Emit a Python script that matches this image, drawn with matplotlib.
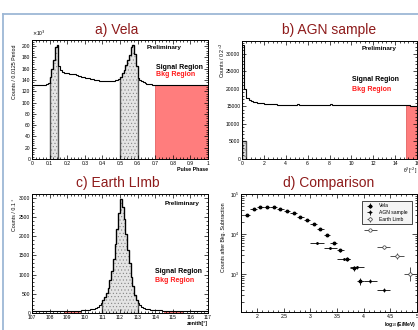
import numpy as np
import matplotlib
matplotlib.use("Agg")
import matplotlib.pyplot as plt
from matplotlib.lines import Line2D
from matplotlib.ticker import MultipleLocator, FormatStrFormatter

plt.rcParams["font.family"] = ["Liberation Sans", "DejaVu Sans"]
plt.rcParams["hatch.linewidth"] = 0.35
plt.rcParams["hatch.color"] = "#7a7a7a"

W, H = 418, 330
TITLE = "#8e1b1b"; SIG_FILL = "#e4e4e4"; SIG_EDGE = "#555555"; BKG = "#ff7d7d"; FRAME = "#9db7d5"

# ---- a) Vela pulse phase, 100 bins over [0, 1], counts x1e3 ----
vela_phase_lo, vela_phase_hi = 0.0, 1.0
vela_counts = [131, 131, 131, 131, 131, 131.5, 132, 132, 133, 135,
               145, 160, 175, 198, 202, 165, 158, 153.5, 153, 152.5,
               152, 151.5, 151, 150.5, 150, 149, 148, 147, 146, 145,
               144.5, 144, 143, 142, 141, 140.5, 140, 139.5, 139, 138.5,
               138.5, 138.5, 138.5, 138.5, 138.5, 139, 139, 139.5, 140, 142,
               146, 152, 158, 166, 175, 185, 199, 202, 186, 165,
               144, 140, 138, 136, 134.5, 133.5, 133, 132.5, 132, 132,
               131.5, 131.5, 131, 131, 131, 131, 131, 131, 131, 131,
               131, 131, 131, 131, 131, 131, 131, 131, 131, 131,
               131, 131, 131, 131, 131, 131, 131, 131, 131, 131]
vela_signal_bins = [(10, 15), (50, 60)]
vela_bkg_bins = (70, 100)

# ---- b) AGN sample theta^2, 80 bins over [0, 16] ----
agn_lo, agn_hi = 0.0, 16.0
agn_counts = [32500, 20000, 17500, 16800, 16500, 16300, 16100, 16000, 16000, 15900,
              15800, 15800, 15700, 15700, 15600, 15600, 15500, 15500, 15400, 15500,
              15400, 15350, 15450, 15400, 15350, 15750, 15400, 15350, 15300, 15400,
              15450, 15350, 15300, 15400, 15350, 15450, 15400, 15300, 15350, 15450,
              15700, 15400, 15300, 15350, 15450, 15400, 15300, 15350, 15400, 15450,
              15350, 15300, 15400, 15500, 15350, 15300, 15400, 15350, 15450, 15400,
              15300, 15350, 15400, 15450, 15350, 15400, 15300, 15350, 15450, 15400,
              15300, 15350, 15400, 15300, 15350, 15400, 15300, 15200, 15150, 15100]
agn_signal_counts = [5200, 5200]
agn_signal_bins = (0, 2)
agn_bkg_bins = (75, 80)

# ---- c) Earth limb zenith, 100 bins over [107, 117] ----
limb_lo, limb_hi = 107.0, 117.0
limb_counts = [45, 48, 46, 50, 47, 49, 52, 48, 50, 51,
               50, 49, 52, 51, 50, 53, 51, 52, 54, 52,
               55, 53, 56, 58, 57, 60, 62, 63, 66, 70,
               75, 80, 85, 92, 100, 110, 130, 160, 200, 270,
               350, 420, 520, 650, 850, 1100, 1400, 1800, 2200, 2600,
               2980, 2750, 2450, 2050, 1650, 1300, 950, 700, 480, 330,
               250, 200, 160, 135, 115, 100, 92, 86, 80, 76,
               73, 70, 68, 66, 63, 62, 60, 58, 57, 56,
               55, 54, 53, 52, 51, 50, 50, 49, 48, 48,
               47, 47, 46, 46, 45, 45, 44, 44, 43, 43]
limb_signal_bins = (40, 60)
limb_bkg_bins = [(18, 27), (75, 85)]

# ---- d) comparison after background subtraction ----
vela_logE = [1.8125, 1.9375, 2.0625, 2.1875, 2.3125, 2.4375, 2.5625, 2.6875, 2.8125,
             2.9375, 3.0625, 3.1875, 3.3125, 3.4375, 3.5625, 3.6875, 3.8125, 3.9375]
vela_sub = [30000, 41000, 48000, 48000, 48000, 42000, 38000, 33500, 27000,
            22600, 17300, 13400, 9400, 6000, 3900, 2350, 1390, 650]
vela_err = [900, 1000, 1100, 1100, 1100, 1000, 950, 900, 800,
            750, 650, 600, 500, 400, 320, 250, 190, 130]
vela_halfbin = 0.0625
agn_logE = [3.125, 3.375, 3.625, 3.875, 4.125, 4.375]
agn_sub = [5900, 4400, 2400, 1440, 650, 390]
agn_err = [250, 200, 150, 110, 70, 50]
agn_halfbin = 0.125
limb_logE = [4.125, 4.375, 4.625, 4.875]
limb_sub = [12600, 4600, 2750, 1000]
limb_err_lo = [600, 350, 450, 330]
limb_err_hi = [650, 380, 500, 480]
limb_halfbin = 0.125


def px_axes(fig, x0, y0, x1, y1):
    return fig.add_axes([x0 / W, 1 - y1 / H, (x1 - x0) / W, (y1 - y0) / H])


def root_style(ax, xmaj, xmin, ymaj=None, ymin=None, xfmt="%g", yfmt="%g"):
    ax.xaxis.set_major_locator(MultipleLocator(xmaj))
    ax.xaxis.set_minor_locator(MultipleLocator(xmin))
    ax.xaxis.set_major_formatter(FormatStrFormatter(xfmt))
    if ymaj is not None:
        ax.yaxis.set_major_locator(MultipleLocator(ymaj))
        ax.yaxis.set_minor_locator(MultipleLocator(ymin))
        ax.yaxis.set_major_formatter(FormatStrFormatter(yfmt))
    ax.tick_params(which="both", direction="in", top=True, right=True, width=0.5,
                   labelsize=3.6, pad=1.2)
    ax.tick_params(which="major", length=2.6)
    ax.tick_params(which="minor", length=1.3)
    for s in ax.spines.values():
        s.set_linewidth(0.7)


def region_labels(ax, xs, yp, ys, yb):
    ax.text(xs[0], yp, "Preliminary", transform=ax.transAxes, fontsize=4.6,
            fontweight="bold", va="center")
    ax.text(xs[1], ys, "Signal Region", transform=ax.transAxes, fontsize=5,
            fontweight="bold", va="center")
    ax.text(xs[1], yb, "Bkg Region", transform=ax.transAxes, fontsize=5,
            fontweight="bold", color="#ff1a1a", va="center")


def signal_fill(ax, vals, edges):
    ax.stairs(vals, edges, fill=True, facecolor=SIG_FILL, edgecolor="#7a7a7a",
              hatch=".....", linewidth=0)
    ax.stairs(vals, edges, color=SIG_EDGE, linewidth=1.0)


def bkg_fill(ax, vals, edges):
    ax.stairs(vals, edges, fill=True, facecolor=BKG, edgecolor="#e05050", linewidth=0.5)


fig = plt.figure(figsize=(W / 100, H / 100), dpi=100)

# ---------------- a) Vela ----------------
ax = px_axes(fig, 32, 40, 208, 159)
vc = np.array(vela_counts)
edges = np.linspace(vela_phase_lo, vela_phase_hi, len(vc) + 1)
for a, b in vela_signal_bins:
    signal_fill(ax, vc[a:b], edges[a:b + 1])
bkg_fill(ax, vc[vela_bkg_bins[0]:vela_bkg_bins[1]], edges[vela_bkg_bins[0]:vela_bkg_bins[1] + 1])
ax.stairs(vc, edges, color="black", linewidth=0.8)
ax.set_xlim(0, 1); ax.set_ylim(0, 211)
root_style(ax, 0.1, 0.02, 20, 4)
ax.text(0.0, 1.02, r"$\times$10$^{3}$", transform=ax.transAxes, fontsize=3.6, va="bottom")
ax.text(-0.097, 0.96, "Counts / 0.0125 Period", transform=ax.transAxes, rotation=90,
        fontsize=3.8, ha="center", va="top")
ax.text(1.0, -0.09, "Pulse Phase", transform=ax.transAxes, fontsize=3.8,
        fontweight="bold", ha="right", va="center")
region_labels(ax, (0.653, 0.705), 0.941, 0.773, 0.706)
fig.text(117 / W, 1 - 30 / H, "a) Vela", color=TITLE, fontsize=10, ha="center", va="center")

# ---------------- b) AGN sample ----------------
ax = px_axes(fig, 242, 41, 417, 159)
ac = np.array(agn_counts)
edges = np.linspace(agn_lo, agn_hi, len(ac) + 1)
sa, sb = agn_signal_bins
signal_fill(ax, np.array(agn_signal_counts), edges[sa:sb + 1])
bkg_fill(ax, ac[agn_bkg_bins[0]:agn_bkg_bins[1]], edges[agn_bkg_bins[0]:agn_bkg_bins[1] + 1])
ax.stairs(ac, edges, color="black", linewidth=0.8)
ax.set_xlim(0, 16); ax.set_ylim(0, 33600)
root_style(ax, 2, 0.4, 5000, 1000)
ax.text(-0.11, 0.99, "Counts / 0.2 \u00b0$^{2}$", transform=ax.transAxes, rotation=90,
        fontsize=3.8, ha="center", va="top")
ax.text(0.998, -0.1, "\u03b8$^{2}$[\u00b0$^{2}$]", transform=ax.transAxes, fontsize=3.6,
        ha="right", va="center")
region_labels(ax, (0.686, 0.629), 0.935, 0.672, 0.588)
fig.text(329 / W, 1 - 30 / H, "b) AGN sample", color=TITLE, fontsize=10, ha="center", va="center")

# ---------------- c) Earth limb ----------------
ax = px_axes(fig, 32, 194, 208, 313)
lc = np.array(limb_counts)
edges = np.linspace(limb_lo, limb_hi, len(lc) + 1)
sa, sb = limb_signal_bins
signal_fill(ax, lc[sa:sb], edges[sa:sb + 1])
for a, b in limb_bkg_bins:
    bkg_fill(ax, lc[a:b], edges[a:b + 1])
ax.stairs(lc, edges, color="black", linewidth=0.8)
ax.set_xlim(limb_lo, limb_hi); ax.set_ylim(0, 3100)
root_style(ax, 1, 0.2, 500, 100)
ax.text(-0.097, 0.96, "Counts / 0.1 \u00b0", transform=ax.transAxes, rotation=90,
        fontsize=3.8, ha="center", va="top")
ax.text(1.0, -0.09, "zenith[\u00b0]", transform=ax.transAxes, fontsize=3.8,
        fontweight="bold", ha="right", va="center")
region_labels(ax, (0.756, 0.70), 0.924, 0.345, 0.277)
fig.text(118 / W, 1 - 183 / H, "c) Earth LImb", color=TITLE, fontsize=10, ha="center", va="center")

# ---------------- d) Comparison ----------------
ax = px_axes(fig, 241, 194, 417, 312)
ax.set_yscale("log")
ax.errorbar(vela_logE, vela_sub, xerr=vela_halfbin, yerr=vela_err, fmt="o", ms=1.8,
            color="black", elinewidth=0.6, capsize=0, label="Vela")
ax.errorbar(agn_logE, agn_sub, xerr=agn_halfbin, yerr=agn_err, fmt="o", ms=1.0,
            color="black", elinewidth=0.6, capsize=0, label="AGN sample")
ax.errorbar(limb_logE, limb_sub, xerr=limb_halfbin, yerr=[limb_err_lo, limb_err_hi],
            fmt="o", ms=2.4, mfc="white", mec="#333333", mew=0.5, color="#333333",
            elinewidth=0.6, capsize=0, label="Earth Limb")
ax.set_xlim(1.7, 5.0); ax.set_ylim(110, 1e5)
root_style(ax, 0.5, 0.1)
ax.tick_params(axis="y", which="major", length=3.5)
ax.tick_params(axis="y", which="minor", length=1.8)
leg = ax.legend(loc="upper left", bbox_to_anchor=(0.676, 0.78, 0.307, 0.178), mode="expand",
                fontsize=3.6, frameon=True, fancybox=False, borderpad=0.4, handlelength=2.2,
                labelspacing=0.35, edgecolor="black", facecolor="#f4f4f4", framealpha=1)
leg.get_frame().set_linewidth(0.5)
ax.text(-0.097, 0.93, "Counts after Bkg. Subtraction", transform=ax.transAxes, rotation=90,
        fontsize=3.8, ha="center", va="top")
ax.text(0.998, -0.105, "log$_{10}$(E/MeV)", transform=ax.transAxes, fontsize=3.6,
        fontweight="bold", ha="right", va="center")
fig.text(329 / W, 1 - 183 / H, "d) Comparison", color=TITLE, fontsize=10, ha="center", va="center")

# slide frame
fig.add_artist(Line2D([2.5 / W, 2.5 / W], [0, 1 - 14 / H], color=FRAME, lw=1.3))
fig.add_artist(Line2D([2.5 / W, 1], [1 - 14 / H, 1 - 14 / H], color=FRAME, lw=1.3))

fig.savefig("out.png", dpi=100)
